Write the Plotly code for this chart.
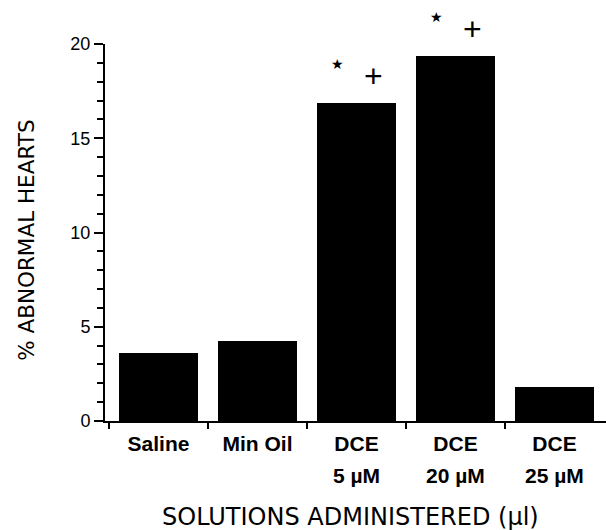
import plotly.graph_objects as go

names = ["Saline", "Min Oil", "DCE", "DCE", "DCE"]
doses = ["", "", "5 µM", "20 µM", "25 µM"]
values = [3.6, 4.27, 16.85, 19.38, 1.79]
y_ticks = [0, 5, 10, 15, 20]
star_idx = [2, 3]
plus_idx = [2, 3]
x_title = "SOLUTIONS ADMINISTERED (µl)"
y_title = "% ABNORMAL HEARTS"

FONT = "Liberation Sans, Arial, sans-serif"
TFONT = "DejaVu Sans, Liberation Sans, sans-serif"
centers = [i + 0.5 for i in range(len(names))]

fig = go.Figure()
fig.add_trace(go.Bar(
    x=centers, y=values, width=0.79,
    marker=dict(color="black", line=dict(width=0)),
    showlegend=False, hoverinfo="skip",
))

annotations = []
for i in star_idx:
    annotations.append(dict(
        x=centers[i] - 0.19, y=values[i], xref="x", yref="y",
        text="★", showarrow=False, yanchor="middle", yshift=39,
        font=dict(size=14, family="DejaVu Sans", color="black"),
    ))
for i in plus_idx:
    annotations.append(dict(
        x=centers[i] + 0.17, y=values[i], xref="x", yref="y",
        text="+", showarrow=False, yanchor="middle", yshift=27,
        font=dict(size=32, family=FONT, color="black"),
    ))
for i, d in enumerate(doses):
    if d:
        annotations.append(dict(
            x=centers[i], y=0, xref="x", yref="paper",
            text=d, showarrow=False, yanchor="middle", yshift=-54,
            font=dict(size=21, family=FONT, color="black", weight="bold"),
        ))
annotations.append(dict(
    x=0.49, y=0, xref="paper", yref="paper", xanchor="center", yanchor="middle",
    text=x_title, showarrow=False, yshift=-96,
    font=dict(size=24, family=TFONT, color="black"),
))
annotations.append(dict(
    x=0, y=0.478, xref="paper", yref="paper", xanchor="center", yanchor="middle",
    text=y_title, showarrow=False, textangle=-90, xshift=-78,
    font=dict(size=21.5, family=TFONT, color="black"),
))

fig.update_layout(
    width=606, height=530,
    margin=dict(l=105, r=0, t=44, b=109),
    paper_bgcolor="white", plot_bgcolor="white",
    font=dict(family=FONT, color="black"),
    bargap=0,
    annotations=annotations,
)
fig.update_xaxes(
    range=[-0.04, 5.02], automargin=False,
    tickvals=centers, ticktext=names,
    ticks="", showgrid=False, zeroline=False, ticklabelstandoff=3,
    showline=True, linecolor="black", linewidth=2,
    tickfont=dict(size=21, family=FONT, weight="bold"),
    minor=dict(tickmode="array", tickvals=list(range(len(names))),
               ticks="outside", ticklen=6, tickwidth=2, tickcolor="black", showgrid=False),
    fixedrange=True,
)
fig.update_yaxes(
    range=[0, 20], automargin=False,
    tickvals=y_ticks,
    ticks="outside", ticklen=9, tickwidth=2, tickcolor="black",
    showgrid=False, zeroline=False,
    showline=True, linecolor="black", linewidth=2,
    tickfont=dict(size=18, family=FONT),
    minor=dict(dtick=1, ticks="outside", ticklen=6, tickwidth=1.5, tickcolor="black", showgrid=False),
    fixedrange=True,
)

fig.write_html(
    "out.html",
    config={"displayModeBar": False},
    post_script="document.body.style.margin='0px';document.body.style.overflow='hidden';",
)
